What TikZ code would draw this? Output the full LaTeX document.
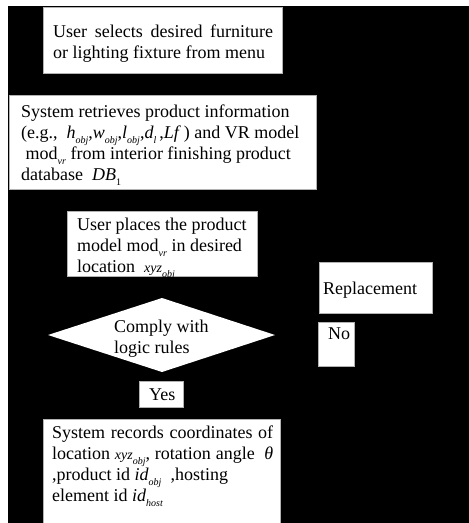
\documentclass[tikz,border=0pt]{standalone}
\usepackage{fontspec}
\setmainfont{Liberation Serif}
\newcommand\isub[1]{\raisebox{-0.3em}{\fontsize{10}{10}\selectfont\itshape #1}}
\newcommand\usub[1]{\raisebox{-0.3em}{\fontsize{10}{10}\selectfont #1}}
\newcommand\smallit[1]{{\fontsize{14}{14}\selectfont\itshape #1}}
\begin{document}
\begin{tikzpicture}[x=1pt,y=-1pt,
  every node/.style={font=\fontsize{18}{21}\selectfont},
  box/.style={draw=gray!60, line width=0.6pt, fill=white, inner sep=0pt},
  % ragged blocks sit on the baseline of their last line
  txt/.style={inner sep=0pt, align=left, anchor=base west},
  % justified blocks sit on the baseline of their first line
  jtxt/.style={inner sep=0pt, text width=220pt, align=justify, anchor=base west}]
\useasboundingbox (0,0) rectangle (469,523);
\fill[white] (0,0) rectangle (469,523);
\fill[black] (8,6) rectangle (469,523);

% step 1: choose product
\node[box, minimum width=239pt, minimum height=66pt] (selbox) at (162.5,40) {};
\node[jtxt] (seltxt) at (53,37) {User selects desired furniture\linebreak or lighting fixture from menu};

% step 2: retrieve product data
\node[box, minimum width=307pt, minimum height=94pt] (retbox) at (162.5,142) {};
\node[txt] (rettxt) at (21,180) {System retrieves product information\\
(e.g.,\ \ \textit{h}\isub{obj},\textit{w}\isub{obj},\textit{l}\isub{obj},\textit{d}\isub{l}\,,\textit{Lf}\,) and VR model\\
\ mod\isub{vr} from interior finishing product\\
database \ \textit{DB}\usub{1}};

% step 3: place model
\node[box, minimum width=190pt, minimum height=65pt] (plabox) at (162,243.5) {};
\node[txt] (platxt) at (77,272) {User places the product\\
model mod\isub{vr} in desired\\
location \ \smallit{xyz}\isub{obj}};

% replacement branch
\node[box, minimum width=113pt, minimum height=51pt] (repbox) at (375.5,287.5) {};
\node[txt] (reptxt) at (323,294) {Replacement};

% decision
\path[fill=white] (162,298) -- (275,335) -- (162,372) -- (48,335) -- cycle;
\node[txt] (dectxt) at (114,353) {Comply with\\logic rules};

\node[box, minimum width=36pt, minimum height=44pt] (nobox) at (336,344) {};
\node[txt] (notxt) at (328,339) {No};

\node[box, minimum width=44pt, minimum height=26pt] (yesbox) at (161,394) {};
\node[txt] (yestxt) at (149,400) {Yes};

% step 4: record placement
\node[box, minimum width=237pt, minimum height=106pt] (recbox) at (161.5,472) {};
\node[jtxt, text width=221pt] (rectxt) at (52,438) {System records coordinates of\linebreak
location \smallit{xyz}\isub{obj}, rotation angle \ \textit{θ}\linebreak
,product id \textit{id}\isub{obj} \ ,hosting\\
element id \textit{id}\isub{host}};
\end{tikzpicture}
\end{document}
